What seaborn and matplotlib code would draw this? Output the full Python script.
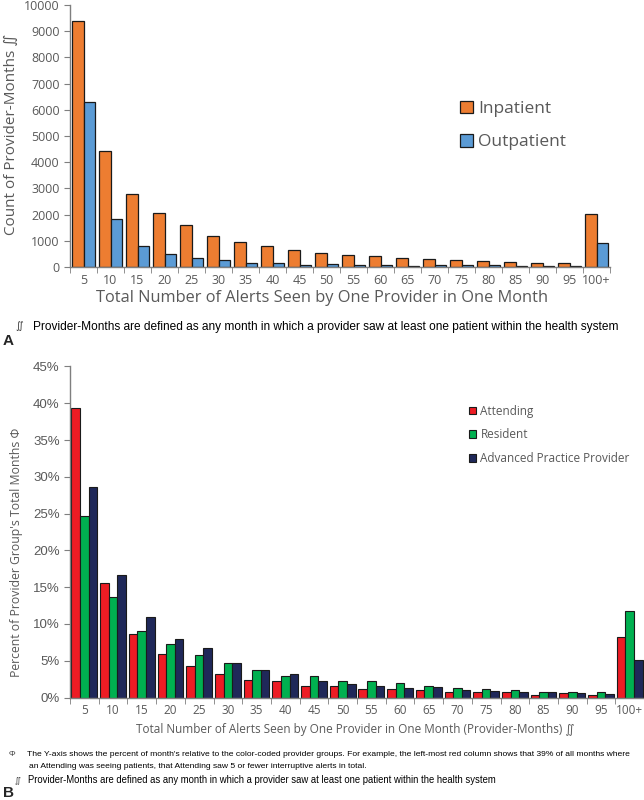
import numpy as np
import pandas as pd
import matplotlib
matplotlib.use("Agg")
import matplotlib.pyplot as plt
import seaborn as sns
from matplotlib.ticker import PercentFormatter

# -------------------------
# data
# -------------------------
bins = ["5", "10", "15", "20", "25", "30", "35", "40", "45", "50",
        "55", "60", "65", "70", "75", "80", "85", "90", "95", "100+"]

inpatient = [9400, 4430, 2790, 2050, 1590, 1200, 970, 810, 635, 535,
             460, 430, 355, 305, 255, 230, 180, 155, 155, 2010]
outpatient = [6300, 1830, 810, 485, 330, 255, 150, 150, 90, 100,
              90, 65, 50, 75, 65, 65, 40, 40, 25, 915]

attending = [39.3, 15.5, 8.6, 5.9, 4.3, 3.2, 2.4, 2.2, 1.6, 1.5,
             1.2, 1.1, 1.0, 0.8, 0.8, 0.7, 0.4, 0.6, 0.4, 8.2]
resident = [24.7, 13.6, 9.0, 7.3, 5.8, 4.7, 3.8, 2.9, 2.9, 2.2,
            2.2, 2.0, 1.5, 1.3, 1.1, 1.0, 0.8, 0.8, 0.8, 11.7]
app = [28.6, 16.6, 11.0, 7.9, 6.7, 4.7, 3.8, 3.2, 2.2, 1.9,
       1.5, 1.3, 1.4, 1.0, 0.9, 0.8, 0.8, 0.6, 0.5, 5.1]

settings = ["Inpatient", "Outpatient"]
groups = ["Attending", "Resident", "Advanced Practice Provider"]

df_a = pd.DataFrame({
    "bin": bins * 2,
    "setting": [s for s in settings for _ in bins],
    "count": inpatient + outpatient,
})
df_b = pd.DataFrame({
    "bin": bins * 3,
    "group": [g for g in groups for _ in bins],
    "pct": attending + resident + app,
})

sns.set_style("white")
plt.rcParams["font.family"] = ["Open Sans", "DejaVu Sans"]

W, H = 644, 800
fig = plt.figure(figsize=(W / 100, H / 100), dpi=100)
grey = "#595959"
narrow = ["Liberation Sans Narrow", "Liberation Sans", "DejaVu Sans"]


def fx(px):
    return px / W


def fy(py):
    return 1 - py / H


def style_axes(ax):
    for s in ["top", "right"]:
        ax.spines[s].set_visible(False)
    for s in ["left", "bottom"]:
        ax.spines[s].set_color("#7f7f7f")
        ax.spines[s].set_linewidth(1.0)
    ax.set_xlim(-0.5, len(bins) - 0.5)
    ax.set_xticks(np.arange(-0.5, len(bins), 1), minor=True)
    ax.tick_params(axis="x", which="major", length=0, pad=5, labelcolor=grey)
    ax.tick_params(axis="x", which="minor", bottom=True, length=4,
                   color="#7f7f7f", direction="out")
    ax.tick_params(axis="y", left=True, length=4, color="#7f7f7f",
                   labelcolor=grey)
    ax.set_xlabel("")
    ax.set_ylabel("")


# =========================
# A: counts by setting
# =========================
ax1 = fig.add_axes([fx(70), fy(267), fx(540), 262 / H])
sns.barplot(data=df_a, x="bin", y="count", hue="setting",
            palette=["#ED7D31", "#5B9BD5"], saturation=1, width=0.83,
            gap=0, errorbar=None, edgecolor="#1a1a1a", linewidth=0.9,
            ax=ax1)
ax1.set_ylim(0, 10000)
ax1.set_yticks(np.arange(0, 10001, 1000))
style_axes(ax1)
ax1.tick_params(axis="both", labelsize=9)
ax1.legend(loc="upper left", bbox_to_anchor=(fx(444), fy(85)),
           bbox_transform=fig.transFigure, frameon=False, fontsize=12.5,
           handlelength=0.75, handleheight=0.75, handletextpad=0.3,
           labelspacing=0.98, labelcolor=grey)

fig.text(fx(322), fy(298), "Total Number of Alerts Seen by One Provider in One Month",
         ha="center", va="center", fontsize=11.8, color=grey)
fig.text(fx(11), fy(134), "Count of Provider-Months \u222C", rotation=90,
         ha="center", va="center", fontsize=11, color=grey)
fig.text(fx(15), fy(327), "\u222C", ha="left", va="center", fontsize=7,
         style="italic", color="#333333")
fig.text(fx(33), fy(327),
         "Provider-Months are defined as any month in which a provider saw at least one patient within the health system",
         ha="left", va="center", fontsize=8.6, family=narrow, color="black")
fig.text(fx(3), fy(341), "A", ha="left", va="center", fontsize=11,
         fontweight="bold", family=["Liberation Sans", "DejaVu Sans"])

# =========================
# B: percent by provider group
# =========================
ax2 = fig.add_axes([fx(70), fy(697.5), fx(574), 331 / H])
sns.barplot(data=df_b, x="bin", y="pct", hue="group",
            palette=["#ED1C24", "#00B050", "#1F2859"], saturation=1,
            width=0.9, gap=0, errorbar=None, edgecolor="#1a1a1a",
            linewidth=0.8, ax=ax2)
ax2.set_ylim(0, 45)
ax2.set_yticks(np.arange(0, 46, 5))
ax2.yaxis.set_major_formatter(PercentFormatter(decimals=0))
style_axes(ax2)
ax2.tick_params(axis="x", labelsize=8.5)
ax2.tick_params(axis="y", labelsize=9.5)
for lab in ax2.get_yticklabels():
    lab.set_family(["Liberation Sans", "DejaVu Sans"])
ax2.legend(loc="upper left", bbox_to_anchor=(fx(458), fy(394)),
           bbox_transform=fig.transFigure, frameon=False, fontsize=8.5,
           handlelength=0.65, handleheight=0.65, handletextpad=0.35,
           labelspacing=0.9, labelcolor=grey)

fig.text(fx(355), fy(730),
         "Total Number of Alerts Seen by One Provider in One Month (Provider-Months) \u222C",
         ha="center", va="center", fontsize=8.5, color=grey)
fig.text(fx(17), fy(552), "Percent of Provider Group's Total Months \u03A6",
         rotation=90, ha="center", va="center", fontsize=8.8, color=grey)

fig.text(fx(9), fy(755), "\u03A6", ha="left", va="center", fontsize=6, color="#333333")
fig.text(fx(27), fy(755),
         "The Y-axis shows the percent of month's relative to the color-coded provider groups. "
         "For example, the left-most red column shows that 39% of all months where",
         ha="left", va="center", fontsize=6.1, family=narrow, color="black")
fig.text(fx(29), fy(767),
         "an Attending was seeing patients, that Attending saw 5 or fewer interruptive alerts in total.",
         ha="left", va="center", fontsize=6.1, family=narrow, color="black")
fig.text(fx(15), fy(780), "\u222C", ha="left", va="center", fontsize=5.5,
         style="italic", color="#333333")
fig.text(fx(28), fy(780),
         "Provider-Months are defined as any month in which a provider saw at least one patient within the health system",
         ha="left", va="center", fontsize=6.85, family=narrow, color="black")
fig.text(fx(3), fy(793), "B", ha="left", va="center", fontsize=11,
         fontweight="bold", family=["Liberation Sans", "DejaVu Sans"])

fig.savefig("out.png", dpi=100)
